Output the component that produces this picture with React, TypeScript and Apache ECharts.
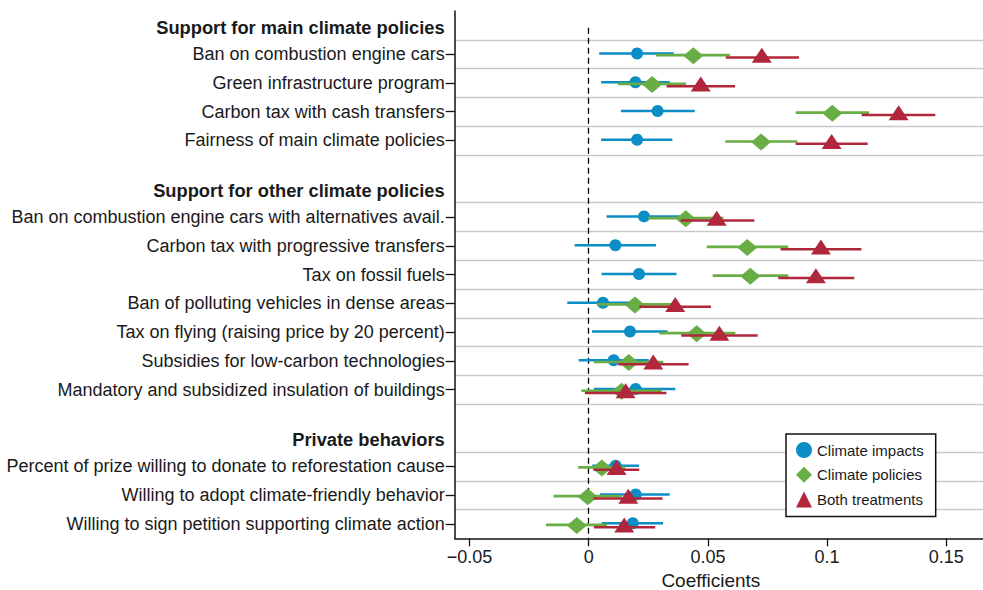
import React, { useEffect, useRef } from 'react';
import * as echarts from 'echarts';

// ---------- data ----------
const sectionTitles = [
  'Support for main climate policies',
  'Support for other climate policies',
  'Private behaviors',
];
const mainPolicies = [
  'Ban on combustion engine cars',
  'Green infrastructure program',
  'Carbon tax with cash transfers',
  'Fairness of main climate policies',
];
const otherPolicies = [
  'Ban on combustion engine cars with alternatives avail.',
  'Carbon tax with progressive transfers',
  'Tax on fossil fuels',
  'Ban of polluting vehicles in dense areas',
  'Tax on flying (raising price by 20 percent)',
  'Subsidies for low-carbon technologies',
  'Mandatory and subsidized insulation of buildings',
];
const privateBehaviors = [
  'Percent of prize willing to donate to reforestation cause',
  'Willing to adopt climate-friendly behavior',
  'Willing to sign petition supporting climate action',
];

const seriesNames = ['Climate impacts', 'Climate policies', 'Both treatments'];

const impactsCoef = [0.0203, 0.0196, 0.0289, 0.0203, 0.0232, 0.0112, 0.0211, 0.0060, 0.0173, 0.0105, 0.0197, 0.0113, 0.0197, 0.0185];
const impactsLow = [0.0044, 0.0052, 0.0135, 0.0052, 0.0075, -0.0059, 0.0054, -0.0090, 0.0014, -0.0042, 0.0022, 0.0015, 0.0047, 0.0055];
const impactsHigh = [0.0357, 0.0340, 0.0445, 0.0351, 0.0390, 0.0282, 0.0368, 0.0212, 0.0331, 0.0252, 0.0363, 0.0211, 0.0340, 0.0312];

const policiesCoef = [0.0439, 0.0266, 0.1022, 0.0723, 0.0407, 0.0665, 0.0678, 0.0194, 0.0453, 0.0168, 0.0138, 0.0055, -0.0004, -0.0050];
const policiesLow = [0.0282, 0.0122, 0.0868, 0.0573, 0.0249, 0.0495, 0.0520, 0.0034, 0.0296, 0.0022, -0.0031, -0.0044, -0.0148, -0.0179];
const policiesHigh = [0.0593, 0.0408, 0.1176, 0.0875, 0.0565, 0.0837, 0.0837, 0.0354, 0.0615, 0.0313, 0.0306, 0.0154, 0.0140, 0.0077];

const bothCoef = [0.0726, 0.0470, 0.1300, 0.1019, 0.0537, 0.0974, 0.0953, 0.0363, 0.0548, 0.0271, 0.0155, 0.0117, 0.0166, 0.0149];
const bothLow = [0.0575, 0.0327, 0.1145, 0.0868, 0.0386, 0.0805, 0.0795, 0.0212, 0.0388, 0.0124, -0.0016, 0.0020, 0.0020, 0.0022];
const bothHigh = [0.0882, 0.0614, 0.1454, 0.1170, 0.0695, 0.1144, 0.1114, 0.0513, 0.0709, 0.0419, 0.0326, 0.0212, 0.0310, 0.0279];

const xTicks = [-0.05, 0, 0.05, 0.1, 0.15];

// ---------- layout (slots: 6 per row) ----------
const SLOTS_PER_ROW = 6;
const TOP_PAD = 9;
const SECTION_GAP = 16;
const HEADER_OFFSET = 5;
const GRID_HALF = 3;

const sections = [
  { title: sectionTitles[0], items: mainPolicies },
  { title: sectionTitles[1], items: otherPolicies },
  { title: sectionTitles[2], items: privateBehaviors },
];

const labelMap: Record<number, { text: string; header: boolean }> = {};
const tickSlots = new Set<number>();
const gridSlots = new Set<number>();
const itemSlots: number[] = [];
let cursor = TOP_PAD;
let firstHeaderSlot = 0;
sections.forEach((sec, si) => {
  const hs = cursor - HEADER_OFFSET;
  if (si === 0) firstHeaderSlot = hs;
  labelMap[hs] = { text: sec.title, header: true };
  sec.items.forEach((it, ii) => {
    const s = cursor + ii * SLOTS_PER_ROW;
    labelMap[s] = { text: it, header: false };
    tickSlots.add(s);
    itemSlots.push(s);
    gridSlots.add(s - GRID_HALF);
    gridSlots.add(s + GRID_HALF);
  });
  cursor = cursor + (sec.items.length - 1) * SLOTS_PER_ROW + SECTION_GAP;
});
const lastSlot = itemSlots[itemSlots.length - 1] + GRID_HALF;
const categories = Array.from({ length: lastSlot + 1 }, (_, i) => String(i));

const FONT = '"Liberation Sans", Arial, Helvetica, sans-serif';
const colors = ['#0b8dc6', '#69ad45', '#b0263a'];
const lineDy = [-0.7, 1, 3.3];
const markerDy = [-0.7, 1.5, 1];
const symbols = ['circle', 'diamond', 'triangle'];
const symbolSizes: any[] = [12, [20, 17], [20, 15]];

const coefs = [impactsCoef, policiesCoef, bothCoef];
const lows = [impactsLow, policiesLow, bothLow];
const highs = [impactsHigh, policiesHigh, bothHigh];

function fmtTick(v: number) {
  const s = String(Math.abs(Math.round(v * 1000) / 1000));
  return v < 0 ? '\u2212' + s : s;
}

function buildOption() {
  const series: any[] = [];
  for (let k = 0; k < 3; k++) {
    const dy = lineDy[k];
    const color = colors[k];
    series.push({
      type: 'custom',
      name: 'ci' + k,
      xAxisIndex: 0,
      yAxisIndex: 1,
      z: 2 + 2 * k,
      silent: true,
      encode: { x: [0, 1], y: 2 },
      data: itemSlots.map((s, i) => [lows[k][i], highs[k][i], s]),
      renderItem: (params: any, api: any) => {
        const y = api.value(2);
        const p1 = api.coord([api.value(0), y]);
        const p2 = api.coord([api.value(1), y]);
        return {
          type: 'line',
          shape: { x1: p1[0], y1: p1[1] + dy, x2: p2[0], y2: p2[1] + dy },
          style: { stroke: color, lineWidth: 2.6 },
        };
      },
    });
    const sc: any = {
      type: 'scatter',
      name: seriesNames[k],
      xAxisIndex: 0,
      yAxisIndex: 1,
      z: 3 + 2 * k,
      symbol: symbols[k],
      symbolSize: symbolSizes[k],
      symbolOffset: [0, markerDy[k]],
      itemStyle: { color, opacity: 1 },
      silent: true,
      data: itemSlots.map((s, i) => [coefs[k][i], s]),
    };
    if (k === 0) {
      sc.markLine = {
        silent: true,
        symbol: 'none',
        label: { show: false },
        lineStyle: { color: '#000', type: [6, 4], width: 1.3 },
        z: 1,
        data: [[{ coord: [0, firstHeaderSlot - 0.5] }, { coord: [0, lastSlot] }]],
      };
    }
    series.push(sc);
  }

  return {
    animation: false,
    backgroundColor: '#fff',
    textStyle: { fontFamily: FONT },
    grid: { left: 454.7, right: 0, top: 11, bottom: 51.7, containLabel: false, outerBoundsMode: 'none' },
    legend: {
      data: seriesNames,
      orient: 'vertical',
      left: 786,
      top: 434,
      padding: [8, 12, 9, 10],
      itemGap: 8.7,
      itemWidth: 16,
      itemHeight: 16,
      backgroundColor: '#fff',
      borderColor: '#111',
      borderWidth: 1.5,
      borderRadius: 0,
      textStyle: { fontSize: 15, color: '#1a1a1a', fontFamily: FONT, lineHeight: 16 },
      selectedMode: false,
    },
    xAxis: {
      type: 'value',
      min: -0.05621,
      max: 0.1654,
      axisLine: { show: true, onZero: false, lineStyle: { color: '#111', width: 1.5 } },
      axisTick: { show: true, length: 8, customValues: xTicks, lineStyle: { color: '#111', width: 1.3 } },
      axisLabel: {
        customValues: xTicks,
        formatter: (v: number) => fmtTick(v),
        fontSize: 18,
        color: '#1a1a1a',
        margin: 10,
        fontFamily: FONT,
      },
      splitLine: { show: false },
      name: 'Coefficients',
      nameLocation: 'middle',
      nameGap: 26,
      nameTextStyle: { fontSize: 19, color: '#1a1a1a', fontFamily: FONT, padding: [0, 16, 0, 0] },
    },
    yAxis: [
      {
        type: 'category',
        data: categories,
        inverse: true,
        boundaryGap: false,
        axisLine: { show: true, onZero: false, lineStyle: { color: '#111', width: 1.5 } },
        axisTick: {
          show: true,
          length: 9,
          interval: (i: number) => tickSlots.has(i),
          lineStyle: { color: '#111', width: 1.3 },
        },
        axisLabel: {
          show: true,
          interval: (i: number) => !!labelMap[i],
          margin: 10,
          fontSize: 18,
          color: '#1a1a1a',
          fontFamily: FONT,
          formatter: (_v: string, i: number) => {
            const l = labelMap[i];
            if (!l) return '';
            return l.header ? '{h|' + l.text + '}' : l.text;
          },
          rich: {
            h: { fontWeight: 'bold', fontSize: 18.3, color: '#1a1a1a', fontFamily: FONT, padding: [0, 0, 5, 0] },
          },
        },
        splitLine: {
          show: true,
          interval: (i: number) => gridSlots.has(i) && i !== lastSlot,
          lineStyle: { color: '#c9c9c9', width: 1.4 },
        },
      },
      {
        type: 'value',
        inverse: true,
        min: 0,
        max: lastSlot,
        show: false,
        axisLine: { onZero: false },
        splitLine: { show: false },
      },
    ],
    series,
  };
}

export default function App() {
  const ref = useRef<HTMLDivElement>(null);
  useEffect(() => {
    const chart = echarts.init(ref.current!, null, { renderer: 'svg' });
    chart.setOption(buildOption() as any);
    return () => chart.dispose();
  }, []);
  return (
    <div
      ref={ref}
      style={{ position: 'absolute', left: 0, top: 0, width: 983, height: 590, background: '#fff' }}
    />
  );
}
